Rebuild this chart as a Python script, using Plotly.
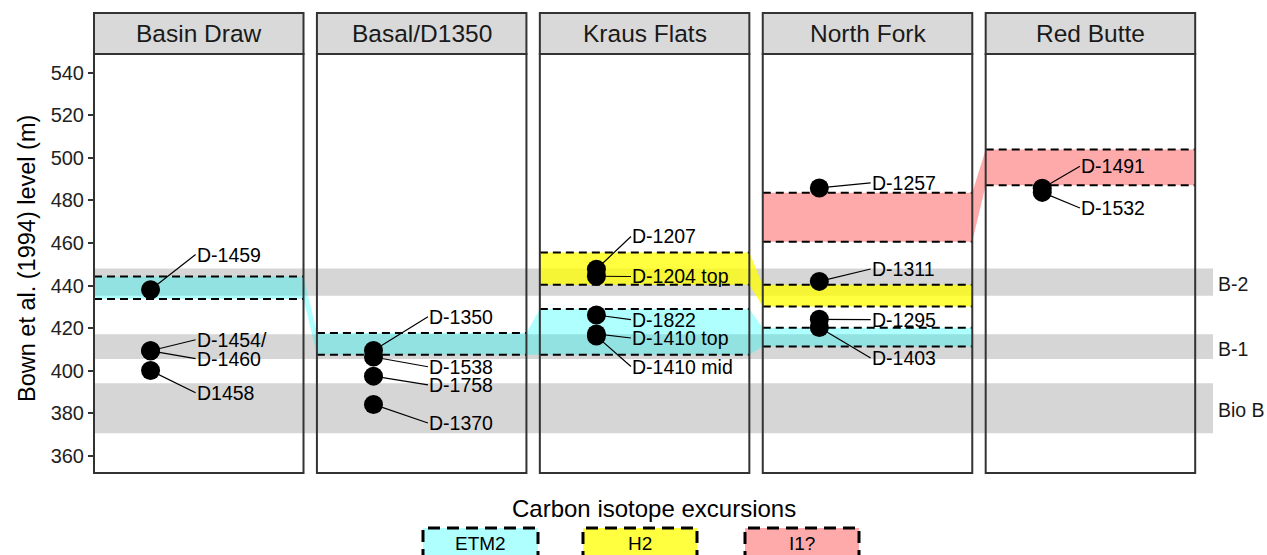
import plotly.graph_objects as go

# ---------------- data ----------------
sections = ["Basin Draw", "Basal/D1350", "Kraus Flats", "North Fork", "Red Butte"]

# carbon isotope excursion intervals per section (m)
etm2_top = [444.3, 417.7, 429.0, 420.2, None]
etm2_bottom = [433.7, 407.5, 407.5, 411.4, None]
h2_top = [None, None, 455.6, 440.4, None]
h2_bottom = [None, None, 440.4, 430.2, None]
i1_top = [None, None, None, 483.6, 503.9]
i1_bottom = [None, None, None, 460.6, 487.1]

excursion_names = ["ETM2", "H2", "I1?"]

# biostratigraphic / marker bands
band_names = ["B-2", "B-1", "Bio B"]
band_bottom = [435.2, 405.5, 370.7]
band_top = [448.0, 417.2, 394.2]

# samples
sample_names = ["D-1459", "D-1454/", "D-1460", "D1458",
                "D-1350", "D-1538", "D-1758", "D-1370",
                "D-1207", "D-1204 top", "D-1822", "D-1410 top", "D-1410 mid",
                "D-1257", "D-1311", "D-1295", "D-1403",
                "D-1491", "D-1532"]
sample_section = [0, 0, 0, 0,
                  1, 1, 1, 1,
                  2, 2, 2, 2, 2,
                  3, 3, 3, 3,
                  4, 4]
sample_level = [438.1, 409.4, 409.4, 400.1,
                409.5, 406.5, 397.5, 384.2,
                447.7, 444.4, 426.2, 417.3, 416.3,
                485.9, 442.0, 424.2, 420.3,
                485.7, 483.8]
label_level = [454.6, 414.6, 405.7, 389.7,
               425.4, 401.9, 393.4, 375.5,
               463.1, 444.3, 424.0, 415.4, 402.0,
               488.3, 447.8, 424.0, 406.0,
               496.1, 476.5]

y_ticks = [360, 380, 400, 420, 440, 460, 480, 500, 520, 540]
y_title = "Bown et al. (1994) level (m)"
legend_title = "Carbon isotope excursions"

# ---------------- layout geometry ----------------
FONT = "Liberation Sans, Arial, Helvetica, sans-serif"
PITCH = 1.064          # panel spacing (panel width = 1)
X_END = 5.341          # right end of drawing area (bands extend past last panel)
POINT_X = 0.27
LABEL_DX = [0.485, 0.53, 0.435, 0.515, 0.45]
Y_RANGE = [352, 548.8]

W, H = 1267, 555
PLOT_LEFT_PX, PLOT_RIGHT_PX = 94, 1213
PLOT_TOP_PX, PLOT_BOT_PX = 54, 473
ML = PLOT_LEFT_PX
MR = W - PLOT_RIGHT_PX
MT = PLOT_TOP_PX
MB = H - PLOT_BOT_PX


def left(k):
    return k * PITCH


def right(k):
    return k * PITCH + 1.0


def py_to_paper(py):
    return (PLOT_BOT_PX - py) / (PLOT_BOT_PX - PLOT_TOP_PX)


def px_to_paper(px):
    return (px - PLOT_LEFT_PX) / (PLOT_RIGHT_PX - PLOT_LEFT_PX)


fill_colors = ["rgba(0,255,255,0.31)", "rgba(255,255,0,0.75)", "rgba(255,0,0,0.333)"]
tops = [etm2_top, h2_top, i1_top]
bottoms = [etm2_bottom, h2_bottom, i1_bottom]

fig = go.Figure()

# ribbons connecting across panels
for top, bot, col in zip(tops, bottoms, fill_colors):
    idx = [k for k in range(len(sections)) if top[k] is not None]
    xs, ys = [], []
    for k in idx:
        xs += [left(k), right(k)]
        ys += [top[k], top[k]]
    for k in reversed(idx):
        xs += [right(k), left(k)]
        ys += [bot[k], bot[k]]
    fig.add_trace(go.Scatter(x=xs, y=ys, mode="lines", fill="toself",
                             fillcolor=col, line=dict(width=0), hoverinfo="skip"))

# dashed boundaries in each panel
for top, bot in zip(tops, bottoms):
    xs, ys = [], []
    for k in range(len(sections)):
        if top[k] is None:
            continue
        xs += [left(k), right(k), None, left(k), right(k), None]
        ys += [top[k], top[k], None, bot[k], bot[k], None]
    fig.add_trace(go.Scatter(x=xs, y=ys, mode="lines",
                             line=dict(color="black", width=2, dash="8px,5px"),
                             hoverinfo="skip"))

# sample points
fig.add_trace(go.Scatter(
    x=[left(s) + POINT_X for s in sample_section], y=sample_level,
    mode="markers", marker=dict(size=19, color="black", line=dict(width=0)),
    text=sample_names, hoverinfo="text"))

shapes = []
# grey marker bands (behind)
for b0, b1 in zip(band_bottom, band_top):
    shapes.append(dict(type="rect", xref="x", yref="y", x0=0, x1=X_END, y0=b0, y1=b1,
                       fillcolor="#D6D6D6", line=dict(width=0), layer="below"))

# panel frames and strips
strip_top = py_to_paper(13)
for k in range(len(sections)):
    x0, x1 = left(k) / X_END, right(k) / X_END
    shapes.append(dict(type="rect", xref="paper", yref="paper", x0=x0, x1=x1, y0=0, y1=1,
                       line=dict(color="#333333", width=2), fillcolor="rgba(0,0,0,0)",
                       layer="above"))
    shapes.append(dict(type="rect", xref="paper", yref="paper", x0=x0, x1=x1, y0=1, y1=strip_top,
                       line=dict(color="#333333", width=2), fillcolor="#D9D9D9",
                       layer="above"))

annotations = []
for k, name in enumerate(sections):
    annotations.append(dict(text=name, xref="paper", yref="paper",
                            x=(left(k) + 0.5) / X_END, y=(1 + strip_top) / 2,
                            xanchor="center", yanchor="middle", showarrow=False,
                            font=dict(family=FONT, size=24.5, color="#1A1A1A")))

# sample labels with leader lines
for name, s, lv, ll in zip(sample_names, sample_section, sample_level, label_level):
    annotations.append(dict(text=name, x=left(s) + POINT_X, y=lv, xref="x", yref="y",
                            ax=left(s) + LABEL_DX[s], ay=ll, axref="x", ayref="y",
                            xanchor="left", yanchor="middle", showarrow=True,
                            arrowhead=0, arrowwidth=1.2, arrowcolor="black",
                            borderpad=0,
                            font=dict(family=FONT, size=19.5, color="black")))

# band labels
for name, b0, b1 in zip(band_names, band_bottom, band_top):
    annotations.append(dict(text=name, xref="paper", yref="y",
                            x=1.0 + 3 / (PLOT_RIGHT_PX - PLOT_LEFT_PX),
                            y=(b0 + b1) / 2 - 1.0, xanchor="left", yanchor="middle",
                            showarrow=False, font=dict(family=FONT, size=19.5, color="#1A1A1A")))

# y-axis title
annotations.append(dict(text=y_title, xref="paper", yref="paper", x=px_to_paper(27),
                        y=py_to_paper(259), textangle=-90, xanchor="center", yanchor="middle",
                        showarrow=False, font=dict(family=FONT, size=23.5, color="black")))

# legend (drawn below the panels)
annotations.append(dict(text=legend_title, xref="paper", yref="paper", x=px_to_paper(654),
                        y=py_to_paper(508), xanchor="center", yanchor="middle",
                        showarrow=False, font=dict(family=FONT, size=24, color="black")))
legend_boxes_px = [(423, 538), (583, 697), (745, 859)]
for name, col, (bx0, bx1) in zip(excursion_names, fill_colors, legend_boxes_px):
    shapes.append(dict(type="rect", xref="paper", yref="paper",
                       x0=px_to_paper(bx0), x1=px_to_paper(bx1),
                       y0=py_to_paper(562), y1=py_to_paper(528),
                       fillcolor=col, line=dict(color="black", width=3, dash="12px,7px"),
                       layer="above"))
    annotations.append(dict(text=name, xref="paper", yref="paper",
                            x=px_to_paper((bx0 + bx1) / 2), y=py_to_paper(543),
                            xanchor="center", yanchor="middle", showarrow=False,
                            font=dict(family=FONT, size=19, color="black")))

fig.update_layout(
    template="none",
    width=W, height=H,
    margin=dict(l=ML, r=MR, t=MT, b=MB, pad=0),
    paper_bgcolor="white", plot_bgcolor="white",
    showlegend=False,
    shapes=shapes, annotations=annotations,
    xaxis=dict(range=[0, X_END], visible=False, showgrid=False, zeroline=False,
               automargin=False),
    yaxis=dict(range=Y_RANGE, tickvals=y_ticks, ticks="outside", ticklen=5,
               tickwidth=1.5, tickcolor="#333333", showgrid=False, zeroline=False,
               showline=False, automargin=False,
               tickfont=dict(family=FONT, size=20, color="#222222")),
    font=dict(family=FONT),
)

# remove the default page margin so the figure fills the window exactly
fig.write_html("out.html",
               config={"displayModeBar": False},
               post_script="document.body.style.margin='0';document.body.style.overflow='hidden';")
